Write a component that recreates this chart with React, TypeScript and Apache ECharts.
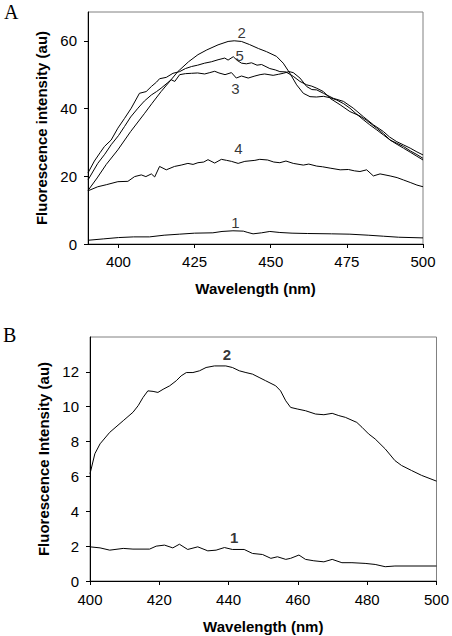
import React, { useEffect, useRef } from "react";
import * as echarts from "echarts";

// ---------- Panel A data ----------
const aXTicks = [400, 425, 450, 475, 500];
const aYTicks = [0, 20, 40, 60];
const a1: [number, number][] = [[390,1.1],[395,1.5],[400,1.9],[405,2.1],[410.2,2.1],[415,2.6],[420,2.9],[425,3.2],[431,3.3],[434,3.7],[437.6,3.9],[441,3.8],[442.5,3.4],[444.2,3.0],[447,3.3],[449.7,3.7],[453,3.4],[457,3.2],[462,3.1],[470,3.0],[476,2.9],[482,2.6],[487,2.3],[492,2.0],[500,1.8]];
const a2: [number, number][] = [[390,15.8],[393,19.5],[396,23.5],[399.8,27.8],[404,33.2],[408.6,38.6],[411,41.5],[414,45],[417,48.2],[419.5,50.9],[423,53.8],[426.1,55.9],[429,57.3],[432.7,58.8],[436,59.8],[438,60],[440.4,59.8],[443,58.9],[446,57.7],[448.6,56.8],[451.9,55.4],[454.1,53.4],[456.3,50.4],[458.5,47],[460.7,44.5],[462.9,43.5],[465,43.4],[467.3,43.6],[469.5,43.2],[471.7,42.5],[474,41.4],[476,40.1],[478,38.5],[480.4,36.7],[482.5,35.2],[484.8,33.7],[487,32.2],[489.2,30.7],[491.5,29.4],[493.6,28.3],[496,27],[498,25.9],[500,24.8]];
const a3: [number, number][] = [[390,18.9],[393.2,23.8],[395.5,26.5],[397.6,29.3],[400,32],[402,34.7],[404,37.5],[406.4,40.1],[408.5,42.2],[410.8,44],[412.5,45],[414,46],[416,47.5],[417.3,48.5],[418.5,48.0],[420.1,50],[422,50.3],[424,50.4],[426,50.5],[428.3,50.2],[430,50.6],[431.6,51],[433,50.5],[435,50],[437.1,50.6],[438.7,49],[440.4,49.6],[442.6,49],[444.8,49.6],[446.5,50],[448,50.2],[450.8,49.8],[452.5,50.1],[454.1,50.4],[456,50.9],[457.4,50.6],[459.6,49],[461.8,46.5],[463.5,45.6],[465.1,45.5],[467.3,44.5],[470.6,43],[473.9,42.1],[477.1,40.1],[480.4,37.6],[483.7,35.2],[487,33.2],[489,31.6],[491.4,30.2],[493.5,29.3],[495.8,28.3],[498,27.2],[500,26.3]];
const a4: [number, number][] = [[390,15.7],[393.2,16.9],[396,17.5],[399.8,18.4],[403.1,18.5],[405.3,19.9],[407.5,20.4],[409,19.9],[410.8,20.7],[411.9,19.8],[413.5,22.9],[415.7,21.9],[418.4,22.9],[420.6,23.3],[422.8,23.8],[424.5,23.5],[426.1,24],[428,24.2],[429.4,24.9],[431.6,23.9],[433.8,25],[435.5,24.7],[437.1,24.4],[439.3,23.8],[441.5,24.4],[444.8,24.7],[446.4,25],[449,24.8],[451,24.2],[453,24],[455,24.5],[457.4,23.8],[460.7,23.3],[462.5,23.6],[465.1,23],[467,22.8],[469.5,22.4],[472.8,21.9],[475.5,22],[477.5,21.6],[479.3,21.4],[481.5,21.9],[483.7,20.1],[485.9,20.7],[489.2,20.1],[491.5,19.6],[493.6,18.9],[496,18.1],[498,17.4],[500,16.9]];
const a5: [number, number][] = [[390,21],[392.1,24.5],[394,27],[395.4,28.8],[397.6,30.7],[399.8,34.2],[402,37.1],[404.2,40.1],[406.9,44.5],[409.1,45],[410.8,46.5],[412.5,47.8],[413.5,48.8],[415.7,49.2],[417.9,50.4],[420.1,50.9],[422,51.8],[424,52.4],[426,52.8],[428.3,53.4],[430.5,53.8],[432.7,54.4],[434.9,54.9],[436,54.3],[437.7,55.3],[439,54.2],[440.4,53.4],[442,53.2],[443.7,53.5],[445.5,52.8],[447,53.0],[449.7,51.8],[451.5,51.4],[453,50.9],[455,50.8],[457.4,49.5],[459.6,48],[461.8,47],[463.5,46.6],[465.1,46],[467.3,45],[469.5,43],[472.8,41.1],[476,39.1],[479.3,37.8],[481.5,36.5],[484.8,34.2],[487,32.6],[489.2,30.7],[491.5,29.7],[493.6,28.8],[496,27.4],[498,26.4],[500,25.3]];
const aLabelNames = ["2", "5", "3", "4", "1"];
const aLabelPos: [number, number][] = [[440.5,62.7],[439.8,55.9],[438.4,46],[439.4,28.3],[438.4,6.6]];

// ---------- Panel B data ----------
const bYTicks = [0, 2, 4, 6, 8, 10, 12];
const b2: [number, number][] = [[400,6.15],[401.4,7.3],[402.9,7.87],[405.7,8.53],[409.6,9.2],[412.4,9.68],[413.9,10.06],[415.3,10.53],[416.7,10.91],[418.2,10.88],[419.6,10.82],[421.1,11.0],[423,11.2],[424.9,11.49],[426.3,11.77],[427.8,11.96],[429.7,11.96],[431.6,12.06],[433.5,12.25],[435.9,12.34],[439.2,12.34],[441.1,12.25],[443.1,12.06],[445,11.96],[446.9,11.87],[448.8,11.68],[450.7,11.49],[453.6,11.2],[455,10.91],[456.5,10.34],[457.9,9.96],[459.8,9.87],[462.2,9.77],[465.1,9.58],[467.5,9.54],[469.9,9.62],[471.8,9.49],[473.7,9.39],[477,9.1],[478.5,8.82],[480.4,8.44],[482.3,8.15],[485.2,7.58],[488,6.91],[489.9,6.63],[492.8,6.34],[495.7,6.06],[500,5.73]];
const b1: [number, number][] = [[400,1.96],[402.9,1.9],[405.7,1.77],[409.6,1.87],[412.4,1.83],[417.2,1.83],[419.1,2.0],[421.5,2.06],[423.9,1.9],[425.8,2.11],[428.2,1.81],[431.1,1.96],[434,1.73],[436.4,1.77],[438.8,1.92],[441.1,1.81],[444.5,1.81],[446.9,1.58],[449.8,1.52],[452.2,1.3],[454.1,1.39],[456.5,1.24],[457.9,1.3],[460.3,1.49],[462.2,1.24],[464.6,1.16],[467.5,1.1],[469.9,1.24],[472.7,1.05],[475.6,1.05],[479.4,1.01],[482.3,0.95],[485.2,0.82],[488,0.86],[500,0.86]];
const bLabelNames = ["2", "1"];
const bLabelPos: [number, number][] = [[439.5,13.0],[441.6,2.53]];

const SANS = "'Liberation Sans', Arial, sans-serif";
const SERIF = "'Liberation Serif', 'Times New Roman', serif";

function lineSeries(data: [number, number][], idx: number) {
  return {
    type: "line",
    xAxisIndex: idx,
    yAxisIndex: idx,
    data,
    showSymbol: false,
    symbol: "none",
    lineStyle: { color: "#000", width: 1 },
    emphasis: { disabled: true },
    z: 3,
  };
}

function labelSeries(pos: [number, number][], names: string[], idx: number, bold: boolean) {
  return {
    type: "scatter",
    xAxisIndex: idx,
    yAxisIndex: idx,
    symbolSize: 0,
    silent: true,
    emphasis: { disabled: true },
    itemStyle: { color: "#000" },
    data: pos.map((p, i) => ({ value: p, name: names[i] })),
    label: {
      show: true,
      position: "top",
      distance: -8,
      formatter: (p: any) => p.name,
      color: "#000",
      textBorderWidth: 0,
      fontFamily: SANS,
      fontSize: 15,
      fontWeight: bold ? "bold" : "normal",
    },
    z: 5,
  };
}

export default function App() {
  const ref = useRef<HTMLDivElement>(null);
  useEffect(() => {
    if (!ref.current) return;
    const chart = echarts.init(ref.current, undefined, { renderer: "svg" });
    const axisCommon = {
      axisLine: { show: true, lineStyle: { color: "#000", width: 1 } },
      axisTick: { show: true, inside: false, length: 4, lineStyle: { color: "#000" } },
      splitLine: { show: false },
      nameLocation: "middle",
      nameTextStyle: { fontFamily: SANS, fontSize: 15, fontWeight: "bold", color: "#000" },
    };
    const labelCommon = { fontFamily: SANS, fontSize: 15, color: "#000" };
    chart.setOption({
      animation: false,
      backgroundColor: "#fff",
      title: [
        { text: "A", left: 4, top: 2, padding: 0, textStyle: { fontFamily: SERIF, fontSize: 20, fontWeight: "normal", color: "#000" } },
        { text: "B", left: 3, top: 325, padding: 0, textStyle: { fontFamily: SERIF, fontSize: 20, fontWeight: "normal", color: "#000" } },
      ],
      grid: [
        { left: 88, top: 12, width: 335, height: 232, show: true, borderColor: "#808080", borderWidth: 1, backgroundColor: "transparent" },
        { left: 90, top: 337, width: 348, height: 244, show: true, borderColor: "#808080", borderWidth: 1, backgroundColor: "transparent" },
      ],
      xAxis: [
        {
          ...axisCommon,
          type: "value",
          gridIndex: 0,
          min: 390,
          max: 500,
          name: "Wavelength (nm)",
          nameGap: 37,
          axisTick: { ...axisCommon.axisTick, customValues: aXTicks },
          axisLabel: { ...labelCommon, margin: 10, customValues: aXTicks },
        },
        {
          ...axisCommon,
          type: "value",
          gridIndex: 1,
          min: 400,
          max: 500,
          interval: 20,
          name: "Wavelength (nm)",
          nameGap: 38,
          axisLabel: { ...labelCommon, margin: 11 },
        },
      ],
      yAxis: [
        {
          ...axisCommon,
          type: "value",
          gridIndex: 0,
          min: 0,
          max: 68.5,
          name: "Fluorescence intensity (au)",
          nameGap: 34,
          axisTick: { ...axisCommon.axisTick, customValues: aYTicks },
          axisLabel: { ...labelCommon, margin: 11, customValues: aYTicks },
        },
        {
          ...axisCommon,
          type: "value",
          gridIndex: 1,
          min: 0,
          max: 14,
          name: "Fluorescence Intensity (au)",
          nameGap: 38,
          axisTick: { ...axisCommon.axisTick, customValues: bYTicks },
          axisLabel: { ...labelCommon, margin: 11, customValues: bYTicks },
        },
      ],
      series: [
        lineSeries(a1, 0),
        lineSeries(a2, 0),
        lineSeries(a3, 0),
        lineSeries(a4, 0),
        lineSeries(a5, 0),
        labelSeries(aLabelPos, aLabelNames, 0, false),
        lineSeries(b2, 1),
        lineSeries(b1, 1),
        labelSeries(bLabelPos, bLabelNames, 1, true),
      ],
    });
    return () => chart.dispose();
  }, []);
  return (
    <div
      ref={ref}
      style={{ position: "absolute", left: 0, top: 0, width: 452, height: 636, background: "#fff" }}
    />
  );
}
